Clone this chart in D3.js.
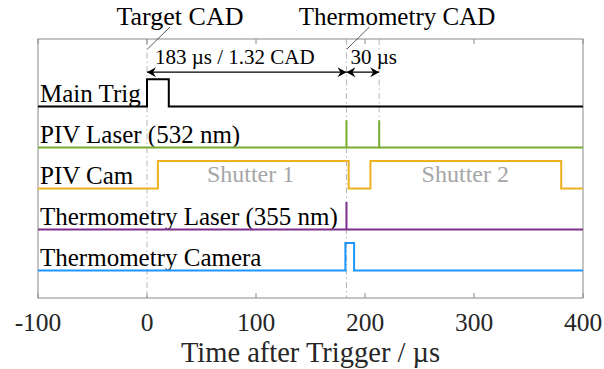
<!DOCTYPE html>
<html><head><meta charset="utf-8">
<script src="https://cdn.jsdelivr.net/npm/d3@7"></script>
<style>
html,body{margin:0;padding:0;background:#fff;}
svg text{font-family:"Liberation Serif","Times New Roman",serif;}
</style></head>
<body>
<script>
// ---- data ----
const xTicks = [-100, 0, 100, 200, 300, 400];
const signalNames = ["Main Trig", "PIV Laser (532 nm)", "PIV Cam", "Thermometry Laser (355 nm)", "Thermometry Camera"];
const signalOffsets = [4, 3, 2, 1, 0];
const signalColors = ["#000000", "#77AC30", "#EDB120", "#7E2F8E", "#1E96FF"];
const mainTrigPulses = [[0, 20]];
const pivLaserPulses = [[183, 183], [213, 213]];
const pivCamPulses = [[10, 185], [205, 380]];
const thermLaserPulses = [[183, 183]];
const thermCamPulses = [[182, 190]];
const pulseAmplitude = 0.67;
const markerTimes = [0, 183, 213];
const shutterLabels = ["Shutter 1", "Shutter 2"];
const shutterCenters = [95, 292];
const intervalArrows = [[0, 183], [183, 213]];
const intervalLabels = ["183 \u00b5s / 1.32 CAD", "30 \u00b5s"];
const eventLabels = ["Target CAD", "Thermometry CAD"];
const eventTimes = [0, 183];

const W = 604, H = 369;
const svg = d3.select("body").append("svg").attr("width", W).attr("height", H);
const x = d3.scaleLinear().domain([-100, 400]).range([38, 583]);
const y = d3.scaleLinear().domain([-0.67, 5.65]).range([298, 39]);

// marker
const defs = svg.append("defs");
defs.append("marker").attr("id", "ah").attr("viewBox", "-10 -6 12 12")
  .attr("refX", 0).attr("refY", 0).attr("markerWidth", 12).attr("markerHeight", 12)
  .attr("markerUnits", "userSpaceOnUse").attr("orient", "auto-start-reverse")
  .append("path").attr("d", "M0,0 L-9,-5 L-6,0 L-9,5 Z").attr("fill", "#000");

// vertical dash-dot guide lines
const guideBottom = [y(-0.67), y(-0.67), y(3 + pulseAmplitude)];
svg.append("g").selectAll("line").data(markerTimes).join("line")
  .attr("x1", d => x(d)).attr("x2", d => x(d))
  .attr("y1", y(5.65)).attr("y2", (d, i) => guideBottom[i])
  .attr("stroke", "#b8b8b8").attr("stroke-width", 1)
  .attr("stroke-dasharray", "6,3,1.5,3");

// axis box
svg.append("rect").attr("x", x(-100)).attr("y", y(5.65))
  .attr("width", x(400) - x(-100)).attr("height", y(-0.67) - y(5.65))
  .attr("fill", "none").attr("stroke", "#8a8a8a").attr("stroke-width", 1);

// ticks (inward) top and bottom
const tg = svg.append("g").attr("stroke", "#8a8a8a").attr("stroke-width", 1);
tg.selectAll("line.b").data(xTicks).join("line").attr("class", "b")
  .attr("x1", d => x(d)).attr("x2", d => x(d))
  .attr("y1", y(-0.67)).attr("y2", y(-0.67) - 5);
tg.selectAll("line.t").data(xTicks).join("line").attr("class", "t")
  .attr("x1", d => x(d)).attr("x2", d => x(d))
  .attr("y1", y(5.65)).attr("y2", y(5.65) + 5);

// tick labels
svg.append("g").selectAll("text").data(xTicks).join("text")
  .attr("x", d => x(d)).attr("y", 330.5).attr("text-anchor", "middle")
  .attr("font-size", 25.5).attr("fill", "#262626").text(d => d);

// axis label
svg.append("text").attr("x", (x(-100) + x(400)) / 2).attr("y", 362)
  .attr("text-anchor", "middle").attr("font-size", 28.5).attr("fill", "#262626")
  .text("Time after Trigger / \u00b5s");

// signals
const allPulses = [mainTrigPulses, pivLaserPulses, pivCamPulses, thermLaserPulses, thermCamPulses];
function stepPoints(pulses, off) {
  const pts = [[-100, off]];
  pulses.forEach(([a, b]) => {
    pts.push([a, off], [a, off + pulseAmplitude], [b, off + pulseAmplitude], [b, off]);
  });
  pts.push([400, off]);
  return pts;
}
const line = d3.line().x(d => x(d[0])).y(d => y(d[1]));

// labels
svg.append("g").selectAll("text").data(signalNames).join("text")
  .attr("x", 40).attr("y", (d, i) => y(signalOffsets[i]) - 4.5)
  .attr("font-size", 25).attr("fill", "#000").text(d => d);

svg.append("g").selectAll("path").data(allPulses).join("path")
  .attr("d", (p, i) => line(stepPoints(p, signalOffsets[i])))
  .attr("fill", "none").attr("stroke", (d, i) => signalColors[i])
  .attr("stroke-width", 2).attr("stroke-linejoin", "miter");

// shutter labels
svg.append("g").selectAll("text").data(shutterLabels).join("text")
  .attr("x", (d, i) => x(shutterCenters[i])).attr("y", y(2) - 7)
  .attr("text-anchor", "middle").attr("font-size", 24).attr("fill", "#a6a6a6")
  .text(d => d);

// interval arrows
svg.append("g").selectAll("line").data(intervalArrows).join("line")
  .attr("x1", d => x(d[0])).attr("x2", d => x(d[1]))
  .attr("y1", y(4.84)).attr("y2", y(4.84))
  .attr("stroke", "#000").attr("stroke-width", 1.3)
  .attr("marker-start", "url(#ah)").attr("marker-end", "url(#ah)");
svg.append("g").selectAll("text").data(intervalLabels).join("text")
  .attr("x", (d, i) => x(intervalArrows[i][0]) + [8, 4][i]).attr("y", 64)
  .attr("font-size", 21).attr("fill", "#000").text(d => d);

// event labels with leader lines
const evX = [180, 397];
const evSize = [26, 25];
svg.append("g").selectAll("text").data(eventLabels).join("text")
  .attr("x", (d, i) => evX[i]).attr("y", 25).attr("text-anchor", "middle")
  .attr("font-size", (d, i) => evSize[i]).attr("fill", "#000").text(d => d);
svg.append("g").selectAll("line").data(eventTimes).join("line")
  .attr("x1", d => x(d) + 0.5).attr("y1", 49)
  .attr("x2", d => x(d) + 23).attr("y2", 27)
  .attr("stroke", "#333").attr("stroke-width", 0.8);
</script>
</body></html>
